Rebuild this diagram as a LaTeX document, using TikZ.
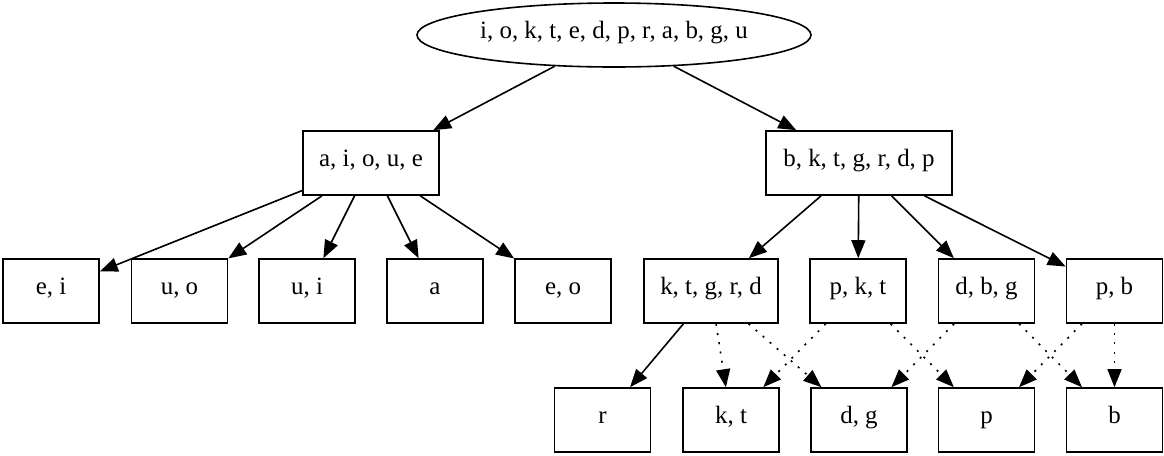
\documentclass[tikz,border=0pt]{standalone}
\usepackage{fontspec}
\setmainfont{Liberation Serif}
\usetikzlibrary{arrows.meta,shapes.geometric}
\begin{document}
\begin{tikzpicture}[x=0.75pt,y=-0.75pt,
  lbl/.style={font=\fontsize{18.7}{22}\selectfont,text height=0.7em,text depth=0.2em},
  box/.style={lbl,draw,line width=1.2pt,rectangle,minimum width=72pt,minimum height=48pt,inner sep=0pt},
  rootnode/.style={lbl,draw,line width=1.2pt,ellipse,minimum width=295.5pt,minimum height=48pt,inner sep=0pt},
  edge/.style={line width=1.2pt,-{Triangle[length=13.5pt,width=10.5pt]}},
  dotedge/.style={edge,dash pattern=on 1.5pt off 5.5pt}]
\useasboundingbox (0,0) rectangle (1164,455);
\node[rootnode] (root) at (614,35) {i, o, k, t, e, d, p, r, a, b, g, u};
\node[box,minimum width=102pt] (v) at (371,163) {a, i, o, u, e};
\node[box,minimum width=139.5pt] (c) at (859,163) {b, k, t, g, r, d, p};
\node[box] (ei) at (51,291) {e, i};
\node[box] (uo) at (179.5,291) {u, o};
\node[box] (ui) at (307,291) {u, i};
\node[box] (a) at (435,291) {a};
\node[box] (eo) at (563,291) {e, o};
\node[box,minimum width=100.5pt] (ktgrd) at (711,291) {k, t, g, r, d};
\node[box] (pkt) at (858,291) {p, k, t};
\node[box] (dbg) at (986.5,291) {d, b, g};
\node[box] (pb) at (1114.5,291) {p, b};
\node[box] (r) at (602.5,420) {r};
\node[box] (kt) at (731,420) {k, t};
\node[box] (dg) at (859,420) {d, g};
\node[box] (p) at (986.5,420) {p};
\node[box] (b) at (1114.5,420) {b};
\draw[edge] (root) -- (v);
\draw[edge] (root) -- (c);
\draw[edge] (v) -- (ei);
\draw[edge] (v) -- (uo);
\draw[edge] (v) -- (ui);
\draw[edge] (v) -- (a);
\draw[edge] (v) -- (eo);
\draw[edge] (c) -- (ktgrd);
\draw[edge] (c) -- (pkt);
\draw[edge] (c) -- (dbg);
\draw[edge] (c) -- (pb);
\draw[edge] (ktgrd) -- (r);
\draw[dotedge] (ktgrd) -- (kt);
\draw[dotedge] (ktgrd) -- (dg);
\draw[dotedge] (pkt) -- (kt);
\draw[dotedge] (pkt) -- (p);
\draw[dotedge] (dbg) -- (dg);
\draw[dotedge] (dbg) -- (b);
\draw[dotedge] (pb) -- (p);
\draw[dotedge] (pb) -- (b);
\end{tikzpicture}
\end{document}
